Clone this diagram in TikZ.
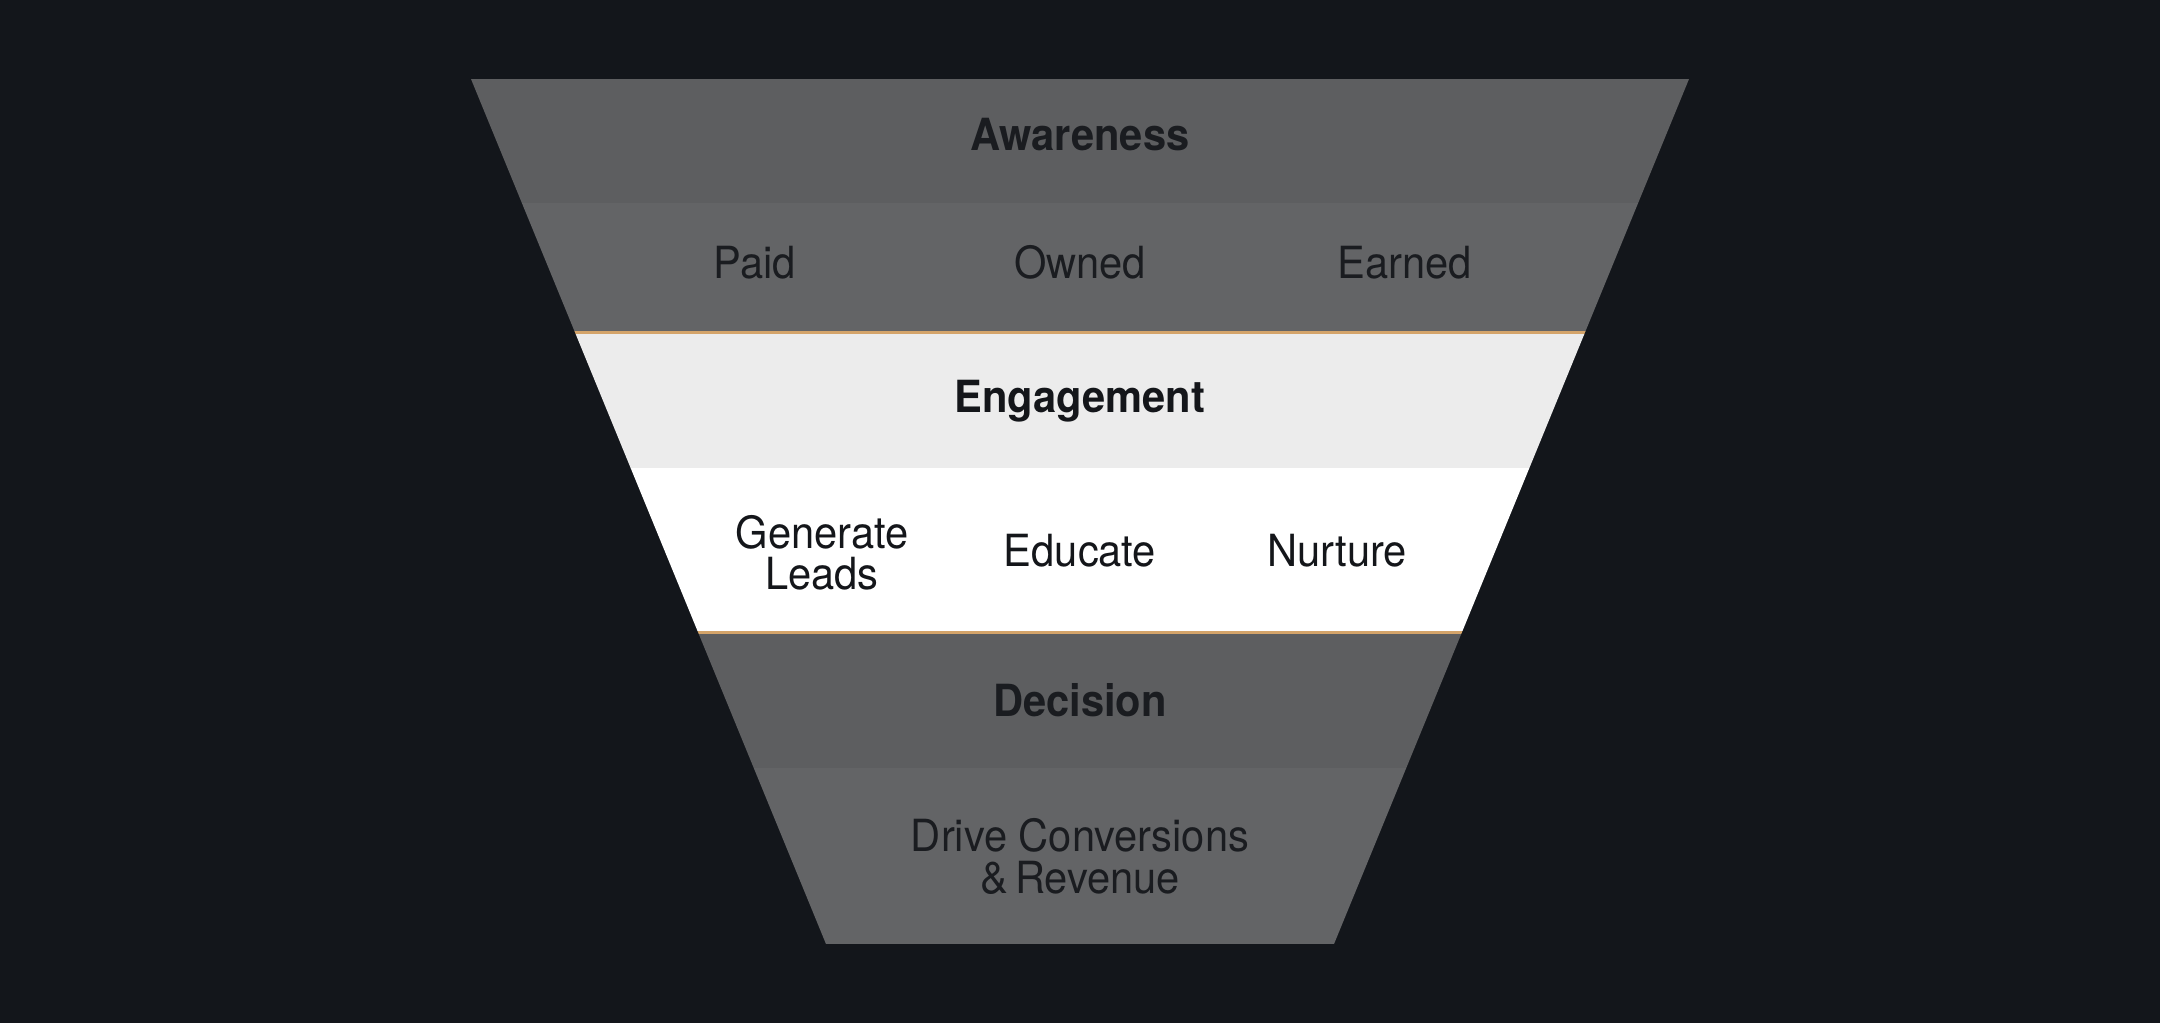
\documentclass[tikz,border=0pt]{standalone}
\usepackage{fontspec}
\setmainfont{TeX Gyre Heros}[FakeStretch=0.94]
\definecolor{bgc}{HTML}{13161B}
\definecolor{bandA}{HTML}{5D5E60}
\definecolor{bandB}{HTML}{636466}
\definecolor{bandL}{HTML}{ECECEC}
\definecolor{accent}{HTML}{D4A46A}
\definecolor{txtdark}{HTML}{1A1C20}
\definecolor{txtlight}{HTML}{14161A}
\begin{document}
\begin{tikzpicture}[x=0.01cm,y=-0.01cm,
  lbl/.style={anchor=base, inner sep=0pt, font=\fontsize{12.6}{12.6}\selectfont},
  ttl/.style={anchor=base, inner sep=0pt, font=\fontsize{12.6}{12.6}\selectfont\bfseries},
  ondark/.style={text=txtdark},
  onlight/.style={text=txtlight}]
\fill[bgc] (0,0) rectangle (2160,1023);
\useasboundingbox (0,0) rectangle (2160,1023);
\begin{scope}
\clip (471,79) -- (1689,79) -- (1334,944) -- (826,944) -- cycle;
\fill[bandA] (400,79) rectangle (1800,203);
\fill[bandB] (400,203) rectangle (1800,331);
\fill[accent] (400,331) rectangle (1800,334);
\fill[bandL] (400,334) rectangle (1800,468);
\fill[white] (400,468) rectangle (1800,631);
\fill[accent] (400,631) rectangle (1800,634);
\fill[bandA] (400,634) rectangle (1800,768);
\fill[bandB] (400,768) rectangle (1800,944);
\end{scope}
% Awareness
\node[ttl,ondark] (aware) at (1080,150) {Awareness};
\node[lbl,ondark] (paid) at (755,278.5) {Paid};
\node[lbl,ondark] (owned) at (1080,278.5) {Owned};
\node[lbl,ondark] (earned) at (1405,278.5) {Earned};
% Engagement
\node[ttl,onlight] (engage) at (1080,412.5) {Engagement};
\node[lbl,onlight] (gen1) at (822,548) {Generate};
\node[lbl,onlight] (gen2) at (822,589) {Leads};
\node[lbl,onlight] (educate) at (1080,566) {Educate};
\node[lbl,onlight] (nurture) at (1337,566) {Nurture};
% Decision
\node[ttl,ondark] (decision) at (1080,716) {Decision};
\node[lbl,ondark] (drive1) at (1080,851) {Drive Conversions};
\node[lbl,ondark] (drive2) at (1080,893) {\&\,Revenue};
\end{tikzpicture}
\end{document}
